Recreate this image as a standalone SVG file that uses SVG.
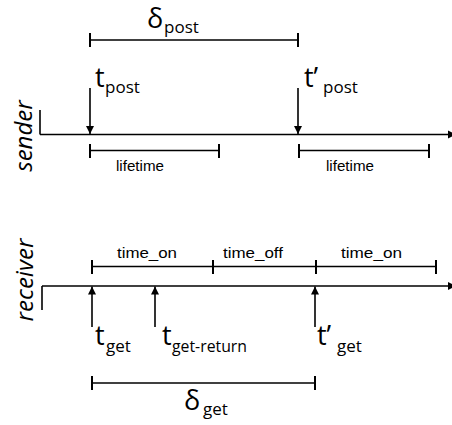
<svg xmlns="http://www.w3.org/2000/svg" width="452" height="425" viewBox="0 0 452 425">
<style>
  .ln { stroke: #000; stroke-width: 1.6; fill: none; }
  .tk { stroke: #000; stroke-width: 2; fill: none; }
  .ar { stroke: #000; stroke-width: 1.6; fill: none; marker-end: url(#ah); }
  .big { font-family: "Open Sans", "Noto Sans", sans-serif; font-size: 27px; fill: #000; }
  .sub { font-size: 17px; }
  .sm { font-family: "Liberation Sans", Arial, sans-serif; font-size: 14.5px; fill: #000; }
  .lab { font-family: "Open Sans", "Noto Sans", sans-serif; font-size: 24px; font-style: italic; fill: #000; text-anchor: middle; }
</style>
<defs>
  <marker id="ah" viewBox="0 0 10 10" refX="10" refY="5" markerWidth="8" markerHeight="9" markerUnits="userSpaceOnUse" orient="auto">
    <path d="M0,0 L10,5 L0,10 z" fill="#000"/>
  </marker>
</defs>

<g id="sender">
  <text class="lab" transform="translate(32,136) rotate(-90)">sender</text>
</g>
<g id="receiver">
  <text class="lab" transform="translate(33,280) rotate(-90)">receiver</text>
</g>

<g id="connectors">
  <!-- sender timeline -->
  <line class="ln" x1="40" y1="110" x2="40" y2="134.5"/>
  <line class="ar" x1="40" y1="134.5" x2="456" y2="134.5"/>
  <!-- post arrows -->
  <line class="ar" x1="90" y1="88" x2="90" y2="134"/>
  <line class="ar" x1="298" y1="88" x2="298" y2="134"/>
  <!-- delta post -->
  <line class="ln" x1="90" y1="40" x2="298" y2="40"/>
  <line class="tk" x1="90" y1="33" x2="90" y2="47"/>
  <line class="tk" x1="298" y1="33" x2="298" y2="47"/>
  <!-- lifetimes -->
  <line class="ln" x1="90" y1="150.5" x2="219" y2="150.5"/>
  <line class="tk" x1="90" y1="144" x2="90" y2="158"/>
  <line class="tk" x1="219" y1="144" x2="219" y2="158"/>
  <line class="ln" x1="299" y1="150.5" x2="429" y2="150.5"/>
  <line class="tk" x1="299" y1="144" x2="299" y2="158"/>
  <line class="tk" x1="429" y1="144" x2="429" y2="158"/>

  <!-- receiver timeline -->
  <line class="ln" x1="42" y1="286" x2="42" y2="310"/>
  <line class="ar" x1="42" y1="286" x2="456" y2="286"/>
  <!-- on/off bar -->
  <line class="ln" x1="92" y1="266.5" x2="436" y2="266.5"/>
  <line class="tk" x1="92" y1="260" x2="92" y2="274"/>
  <line class="tk" x1="213" y1="260" x2="213" y2="274"/>
  <line class="tk" x1="316" y1="260" x2="316" y2="274"/>
  <line class="tk" x1="436" y1="260" x2="436" y2="274"/>
  <!-- get arrows -->
  <line class="ar" x1="92" y1="327" x2="92" y2="286.5"/>
  <line class="ar" x1="155" y1="327" x2="155" y2="286.5"/>
  <line class="ar" x1="315" y1="327" x2="315" y2="286.5"/>
  <!-- delta get -->
  <line class="ln" x1="92" y1="383" x2="315" y2="383"/>
  <line class="tk" x1="92" y1="376" x2="92" y2="390"/>
  <line class="tk" x1="315" y1="376" x2="315" y2="390"/>
</g>

<g id="labels">
  <text class="big" x="147" y="28">δ<tspan class="sub" x="164" y="33">post</tspan></text>
  <text class="big" x="95" y="87">t<tspan class="sub" x="105" y="93">post</tspan></text>
  <text class="big" x="304" y="87">t’<tspan class="sub" x="323" y="93">post</tspan></text>
  <text class="sm" x="116" y="171" textLength="48" lengthAdjust="spacingAndGlyphs">lifetime</text>
  <text class="sm" x="326" y="171" textLength="48" lengthAdjust="spacingAndGlyphs">lifetime</text>

  <text class="sm" x="117" y="258" textLength="60" lengthAdjust="spacingAndGlyphs">time_on</text>
  <text class="sm" x="223" y="258" textLength="60" lengthAdjust="spacingAndGlyphs">time_off</text>
  <text class="sm" x="341" y="258" textLength="61" lengthAdjust="spacingAndGlyphs">time_on</text>

  <text class="big" x="95" y="345">t<tspan class="sub" x="106" y="352">get</tspan></text>
  <text class="big" x="162" y="345">t<tspan class="sub" x="172" y="352" textLength="75" lengthAdjust="spacingAndGlyphs">get-return</tspan></text>
  <text class="big" x="317" y="345">t’<tspan class="sub" x="337" y="352">get</tspan></text>
  <text class="big" x="184" y="410">δ<tspan class="sub" x="203" y="415">get</tspan></text>
</g>
</svg>
